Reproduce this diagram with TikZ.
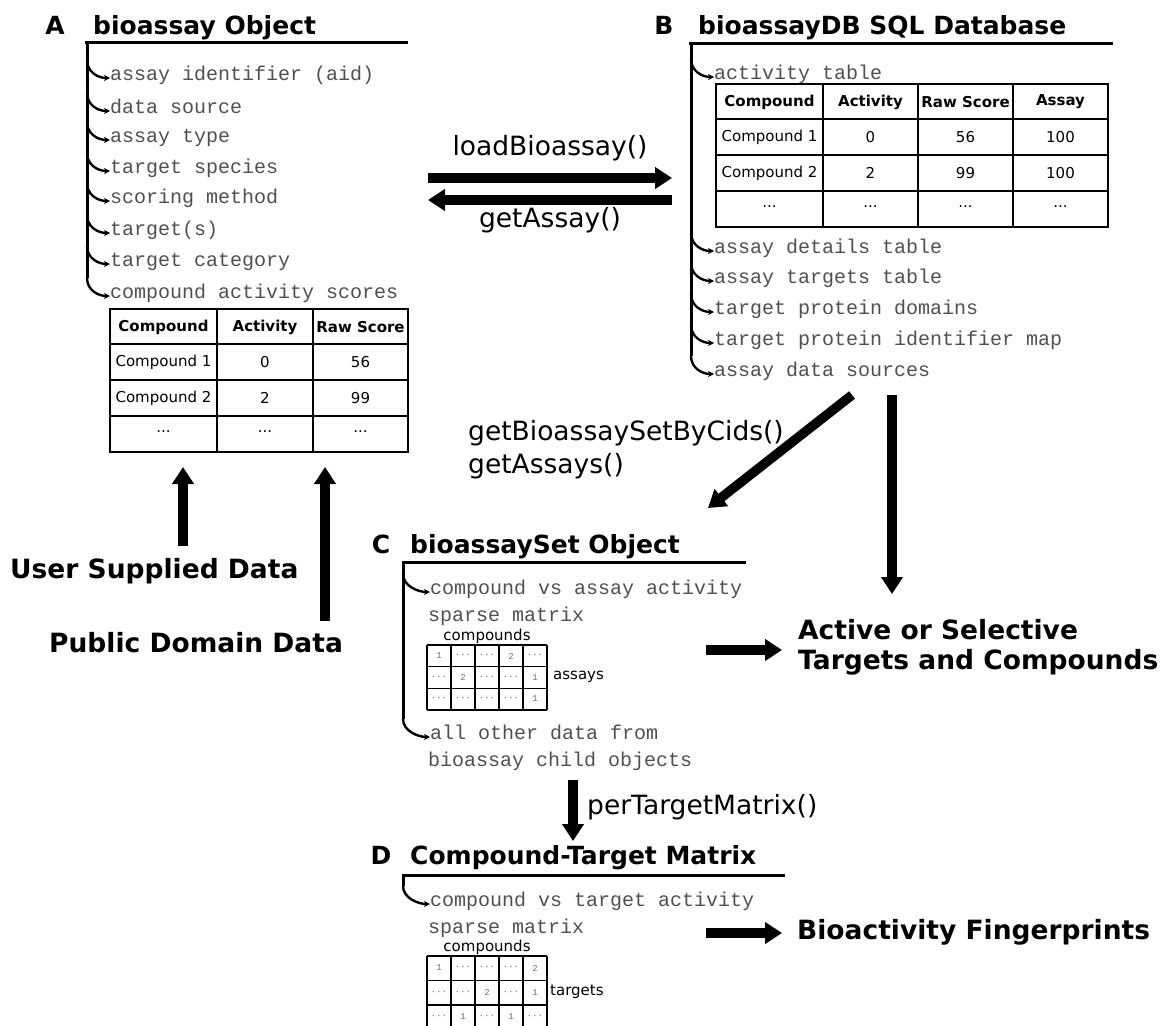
\documentclass[tikz,border=0pt]{standalone}
\usepackage{fontspec}
\setmainfont{DejaVu Sans}
\newfontfamily\monofont{Liberation Mono}
\usetikzlibrary{calc, arrows.meta}
\definecolor{itemgray}{HTML}{505050}
\definecolor{entrygray}{HTML}{707070}
\newcommand\mdots{\textperiodcentered\textperiodcentered\textperiodcentered}

\tikzset{
  paneltitle/.style={font=\fontsize{25}{30}\selectfont\bfseries, inner sep=0pt, anchor=base west},
  panelletter/.style={font=\fontsize{25}{30}\selectfont\bfseries, inner sep=0pt, anchor=base},
  field/.style={font=\fontsize{20}{24}\selectfont\monofont, text=itemgray, inner sep=0pt,
    anchor=west, text height=0.62em, text depth=0.2em, yshift=-4pt},
  fncall/.style={font=\fontsize{26.5}{30}\selectfont, inner sep=0pt},
  outcome/.style={font=\fontsize{26.5}{30}\selectfont\bfseries, inner sep=0pt, anchor=west, align=left},
  datacell/.style={font=\fontsize{15}{18}\selectfont, inner sep=0pt},
  headcell/.style={font=\fontsize{15}{18}\selectfont\bfseries, inner sep=0pt},
  matentry/.style={font=\fontsize{9}{10}\selectfont\monofont, text=entrygray, inner sep=0pt},
  axislabel/.style={font=\fontsize{15}{18}\selectfont, inner sep=0pt},
  titlerule/.style={line width=3pt},
  trunk/.style={line width=3pt},
  twig/.style={line width=2.4pt, -{Stealth[length=6pt,width=6pt]}},
  bigarrow/.style={line width=9.5pt, -{Triangle[length=17pt,width=21pt]}},
  tabline/.style={line width=1.4pt}
}

\begin{document}
\begin{tikzpicture}[x=1pt, y=-1pt]
  \clip (0,0) rectangle (1166,1025);

  % A: bioassay object
  \node[panelletter] (lA) at (55,35) {A};
  \node[paneltitle] (tA) at (93,35) {bioassay Object};
  \draw[titlerule] (85,43) -- (408,43);
  \coordinate (trA) at (87,43);
  \foreach \y/\txt [count=\i] in {74/assay identifier (aid), 107/data source, 136/assay type,
      167/target species, 197/scoring method, 229/target(s), 260/target category,
      292/compound activity scores}
    \node[field] (a\i) at (110,\y) {\txt};
  \draw[trunk] (trA) -- ($(trA |- a8.west)+(0,-18)$);
  \foreach \i in {1,...,8}
    \draw[twig] ($(trA |- a\i.west)+(0,-18)$) .. controls +(0,12) and +(-12,0) .. (a\i.west);

  % table under A
  \draw[tabline] (110,309) rectangle (408,452);
  \foreach \x in {217,313} \draw[tabline] (\x,309) -- (\x,452);
  \foreach \y in {344,380,416} \draw[tabline] (110,\y) -- (408,\y);
  \foreach \cx/\h/\p/\q [count=\i] in {163.5/Compound/Compound 1/Compound 2,
      265/Activity/0/2, 360.5/Raw Score/56/99} {
    \node[headcell] (tbA-1-\i) at (\cx,327) {\h};
    \node[datacell] (tbA-2-\i) at (\cx,362) {\p};
    \node[datacell] (tbA-3-\i) at (\cx,398) {\q};
    \node[datacell] (tbA-4-\i) at (\cx,432) {...};
  }

  % B: bioassayDB
  \node[panelletter] (lB) at (664,35) {B};
  \node[paneltitle] (tB) at (698,35) {bioassayDB SQL Database};
  \draw[titlerule] (689,44) -- (1113,44);
  \coordinate (trB) at (691,44);
  \foreach \y/\txt [count=\i] in {73/activity table, 247/assay details table,
      277/assay targets table, 308/target protein domains,
      339/target protein identifier map, 370/assay data sources}
    \node[field] (b\i) at (714,\y) {\txt};
  \draw[trunk] (trB) -- ($(trB |- b6.west)+(0,-18)$);
  \foreach \i in {1,...,6}
    \draw[twig] ($(trB |- b\i.west)+(0,-18)$) .. controls +(0,12) and +(-12,0) .. (b\i.west);

  % table under B
  \draw[tabline] (716,84) rectangle (1108,227);
  \foreach \x in {823,918,1013} \draw[tabline] (\x,84) -- (\x,227);
  \foreach \y in {119,155,191} \draw[tabline] (716,\y) -- (1108,\y);
  \foreach \cx/\h/\p/\q [count=\i] in {769.5/Compound/Compound 1/Compound 2,
      870.5/Activity/0/2, 965.5/Raw Score/56/99, 1060.5/Assay/100/100} {
    \node[headcell] (tbB-1-\i) at (\cx,102) {\h};
    \node[datacell] (tbB-2-\i) at (\cx,137) {\p};
    \node[datacell] (tbB-3-\i) at (\cx,173) {\q};
    \node[datacell] (tbB-4-\i) at (\cx,207) {...};
  }

  % A <-> B
  \node[fncall] (lb) at (550,148) {loadBioassay()};
  \node[fncall] (ga) at (550,220) {getAssay()};
  \coordinate (lbS) at (428,178); \coordinate (lbE) at (672,178);
  \coordinate (gaS) at (672,200); \coordinate (gaE) at (428,200);
  \draw[bigarrow] (lbS) -- (lbE);
  \draw[bigarrow] (gaS) -- (gaE);

  % data sources into A
  \node[outcome] (usd) at (10,571) {User Supplied Data};
  \node[outcome] (pdd) at (49,643) {Public Domain Data};
  \coordinate (usdS) at (183,546); \coordinate (usdE) at (183,467);
  \coordinate (pddS) at (325,621); \coordinate (pddE) at (325,467);
  \draw[bigarrow] (usdS) -- (usdE);
  \draw[bigarrow] (pddS) -- (pddE);

  % B -> C and B -> results
  \node[fncall, anchor=west] (gbs) at (468,433) {getBioassaySetByCids()};
  \node[fncall, anchor=west] (gas) at (468,466) {getAssays()};
  \coordinate (dgS) at (852,395); \coordinate (dgE) at (708,508);
  \coordinate (vtS) at (892,395); \coordinate (vtE) at (892,594);
  \draw[bigarrow] (dgS) -- (dgE);
  \draw[bigarrow] (vtS) -- (vtE);

  % C: bioassaySet object
  \node[panelletter] (lC) at (381,553) {C};
  \node[paneltitle] (tC) at (410,553) {bioassaySet Object};
  \draw[titlerule] (402,562) -- (746,562);
  \coordinate (trC) at (403,562);
  \node[field] (c1) at (430,588) {compound vs assay activity};
  \node[field] (c2) at (428,615) {sparse matrix};
  \node[field] (c3) at (430,733) {all other data from};
  \node[field] (c4) at (428,760) {bioassay child objects};
  \draw[trunk] (trC) -- ($(trC |- c3.west)+(0,-18)$);
  \foreach \i in {1,3}
    \draw[twig] ($(trC |- c\i.west)+(0,-18)$) .. controls +(0,12) and +(-12,0) .. (c\i.west);
  \node[axislabel] (cmpC) at (487,636) {compounds};
  \node[axislabel, anchor=west] (asyC) at (553,677) {assays};
  \foreach \x in {427,451,475,499,523,547} \draw[tabline] (\x,645) -- (\x,710);
  \foreach \y in {645,666.7,688.3,710} \draw[tabline] (427,\y) -- (547,\y);
  \foreach \v [count=\i] in {1,\mdots,\mdots,2,\mdots}
    \node[matentry] (mC-1-\i) at (415+24*\i,656) {\v};
  \foreach \v [count=\i] in {\mdots,2,\mdots,\mdots,1}
    \node[matentry] (mC-2-\i) at (415+24*\i,677.5) {\v};
  \foreach \v [count=\i] in {\mdots,\mdots,\mdots,\mdots,1}
    \node[matentry] (mC-3-\i) at (415+24*\i,699) {\v};

  \node[outcome] (act) at (798,647) {Active or Selective\\Targets and Compounds};
  \coordinate (actS) at (706,650); \coordinate (actE) at (782,650);
  \draw[bigarrow] (actS) -- (actE);

  % C -> D
  \node[fncall, anchor=west] (ptm) at (587,807) {perTargetMatrix()};
  \coordinate (ptS) at (573,780); \coordinate (ptE) at (573,841);
  \draw[bigarrow] (ptS) -- (ptE);

  % D: compound-target matrix
  \node[panelletter] (lD) at (381,864) {D};
  \node[paneltitle] (tD) at (410,864) {Compound-Target Matrix};
  \draw[titlerule] (402,875) -- (785,875);
  \coordinate (trD) at (403,875);
  \node[field] (d1) at (430,900) {compound vs target activity};
  \node[field] (d2) at (428,927) {sparse matrix};
  \draw[trunk] (trD) -- ($(trD |- d1.west)+(0,-18)$);
  \draw[twig] ($(trD |- d1.west)+(0,-18)$) .. controls +(0,12) and +(-12,0) .. (d1.west);
  \node[axislabel] (cmpD) at (487,947) {compounds};
  \node[axislabel, anchor=west] (tgD) at (550,992) {targets};
  \foreach \x in {427,451,475,499,523,547} \draw[tabline] (\x,956) -- (\x,1030);
  \foreach \y in {956,980.5,1005} \draw[tabline] (427,\y) -- (547,\y);
  \foreach \v [count=\i] in {1,\mdots,\mdots,\mdots,2}
    \node[matentry] (mD-1-\i) at (415+24*\i,968) {\v};
  \foreach \v [count=\i] in {\mdots,\mdots,2,\mdots,1}
    \node[matentry] (mD-2-\i) at (415+24*\i,992.5) {\v};
  \foreach \v [count=\i] in {\mdots,1,\mdots,1,\mdots}
    \node[matentry] (mD-3-\i) at (415+24*\i,1017) {\v};

  \node[outcome] (fp) at (797,932) {Bioactivity Fingerprints};
  \coordinate (fpS) at (706,933); \coordinate (fpE) at (782,933);
  \draw[bigarrow] (fpS) -- (fpE);
\end{tikzpicture}
\end{document}
